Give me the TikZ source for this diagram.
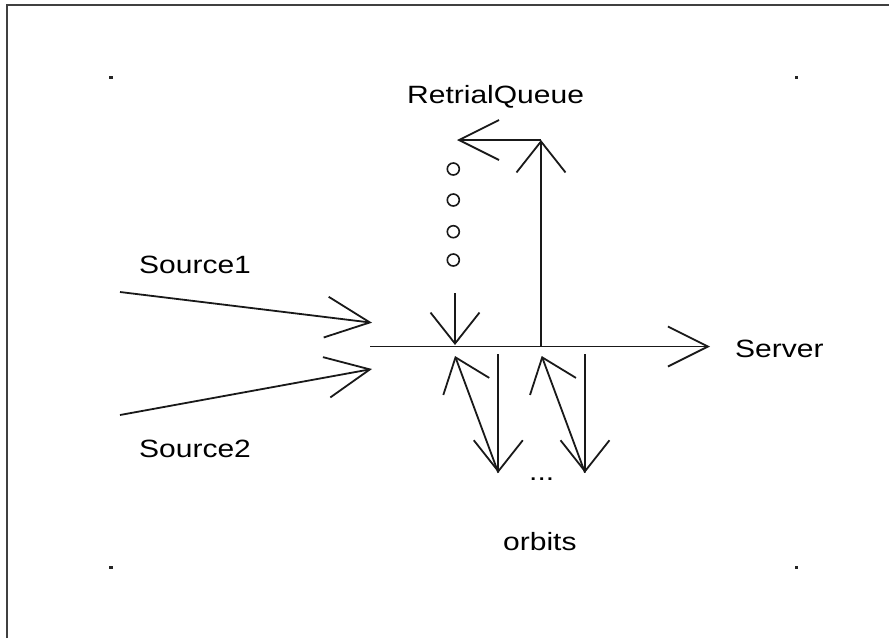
\documentclass[tikz,border=0pt]{standalone}
\usepackage{fontspec}
\setmainfont{Liberation Sans}
\newfontfamily\lab[FakeStretch=1.2]{Liberation Sans}
\usetikzlibrary{arrows.meta}
\begin{document}
\begin{tikzpicture}[x=1pt,y=-1pt,
  stroke/.style={line width=1.8pt, draw=black!90},
  arrH/.style={stroke,-{Straight Barb[length=40pt,width=40pt]}},
  arrV/.style={stroke,-{Straight Barb[length=31pt,width=49pt]}},
  arrS/.style={stroke,-{Straight Barb[length=44pt,width=41pt]}},
  lbl/.style={font=\lab\fontsize{25}{30}\selectfont, inner sep=0pt, anchor=base west, text=black},
  orb/.style={circle, draw=black!90, line width=1.6pt, minimum size=12pt, inner sep=0pt},
  cdot/.style={fill=black!85, minimum size=3.5pt, inner sep=0pt},
]
\useasboundingbox (0,0) rectangle (889,638);
\draw[line width=2pt, black!75] (6.5,638) -- (6.5,4.5) -- (889,4.5);

% corner dots
\node[cdot] (c1) at (111,77.3) {};
\node[cdot] (c2) at (796.3,77.3) {};
\node[cdot] (c3) at (111,567.7) {};
\node[cdot] (c4) at (796.3,567.7) {};

% coordinates
\coordinate (hs) at (370,346.5);
\coordinate (he) at (710,346.5);
\coordinate (j1) at (455,345);
\coordinate (j2) at (541,346.5);
\coordinate (up) at (541,140);
\coordinate (lq) at (457,140);
\coordinate (d1t) at (455,293);
\coordinate (s1a) at (120,292);
\coordinate (s1b) at (372,322.7);
\coordinate (s2a) at (120,415);
\coordinate (s2b) at (372,369);
\coordinate (o1u) at (455,356);
\coordinate (o1b) at (498.3,472.7);
\coordinate (o1t) at (498.3,354);
\coordinate (o2u) at (541.7,356);
\coordinate (o2b) at (585,472.7);
\coordinate (o2t) at (585,354);

% queue circles
\node[orb] (q1) at (453.3,169) {};
\node[orb] (q2) at (453.3,200) {};
\node[orb] (q3) at (453.3,231.7) {};
\node[orb] (q4) at (453.3,260) {};

% connectors
\draw[arrH] (hs) -- (he);
\draw[arrV] (j2) -- (up);
\draw[arrH] (up) -- (lq);
\draw[arrV] (d1t) -- (j1);
\draw[arrS] (s1a) -- (s1b);
\draw[arrS] (s2a) -- (s2b);
\draw[arrV] (o1b) -- (o1u);
\draw[arrV] (o1t) -- (o1b);
\draw[arrV] (o2b) -- (o2u);
\draw[arrV] (o2t) -- (o2b);

% labels
\node[lbl] (rq) at (407,103) {RetrialQueue};
\node[lbl] (src1) at (139,273) {Source1};
\node[lbl] (src2) at (139,457) {Source2};
\node[lbl] (srv) at (735,357) {Server};
\node[lbl] (dots) at (529,480) {...};
\node[lbl] (orbits) at (503,550) {orbits};
\end{tikzpicture}
\end{document}
